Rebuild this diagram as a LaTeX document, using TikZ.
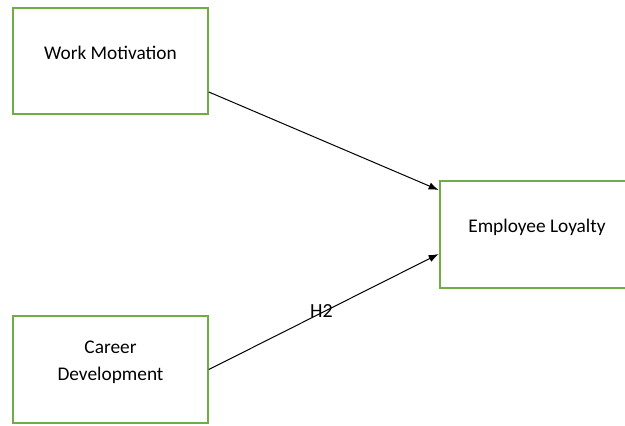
\documentclass[tikz,border=0pt]{standalone}
\usepackage{fontspec}
\setmainfont{Carlito}
\usetikzlibrary{arrows.meta}
\definecolor{boxgreen}{RGB}{112,173,71}

\begin{document}
\begin{tikzpicture}[x=0.75pt,y=-0.75pt,
  box/.style={draw=boxgreen,line width=1.5pt,fill=white,minimum width=146pt,minimum height=80pt,
    align=center,font=\fontsize{14.5}{20.5}\selectfont,inner sep=0pt,text depth=13pt},
  link/.style={line width=0.75pt,-{Latex[length=7.5pt,width=5.5pt]}}]

  \useasboundingbox (0,0) rectangle (625,425);

  \node[box] (wm) at (110.5,61) {Work Motivation};
  \node[box] (el) at (537,234.5) {Employee Loyalty};
  \node[box] (cd) at (110.5,369.5) {Career\\Development};

  \draw[link] (wm.east |- 0,92) -- (el.west |- 0,190);
  \draw[link] (cd.east) -- (el.west |- 0,254)
    node[pos=0.49,yshift=1.5pt,font=\fontsize{15}{19}\selectfont] (h2) {H2};

\end{tikzpicture}
\end{document}
